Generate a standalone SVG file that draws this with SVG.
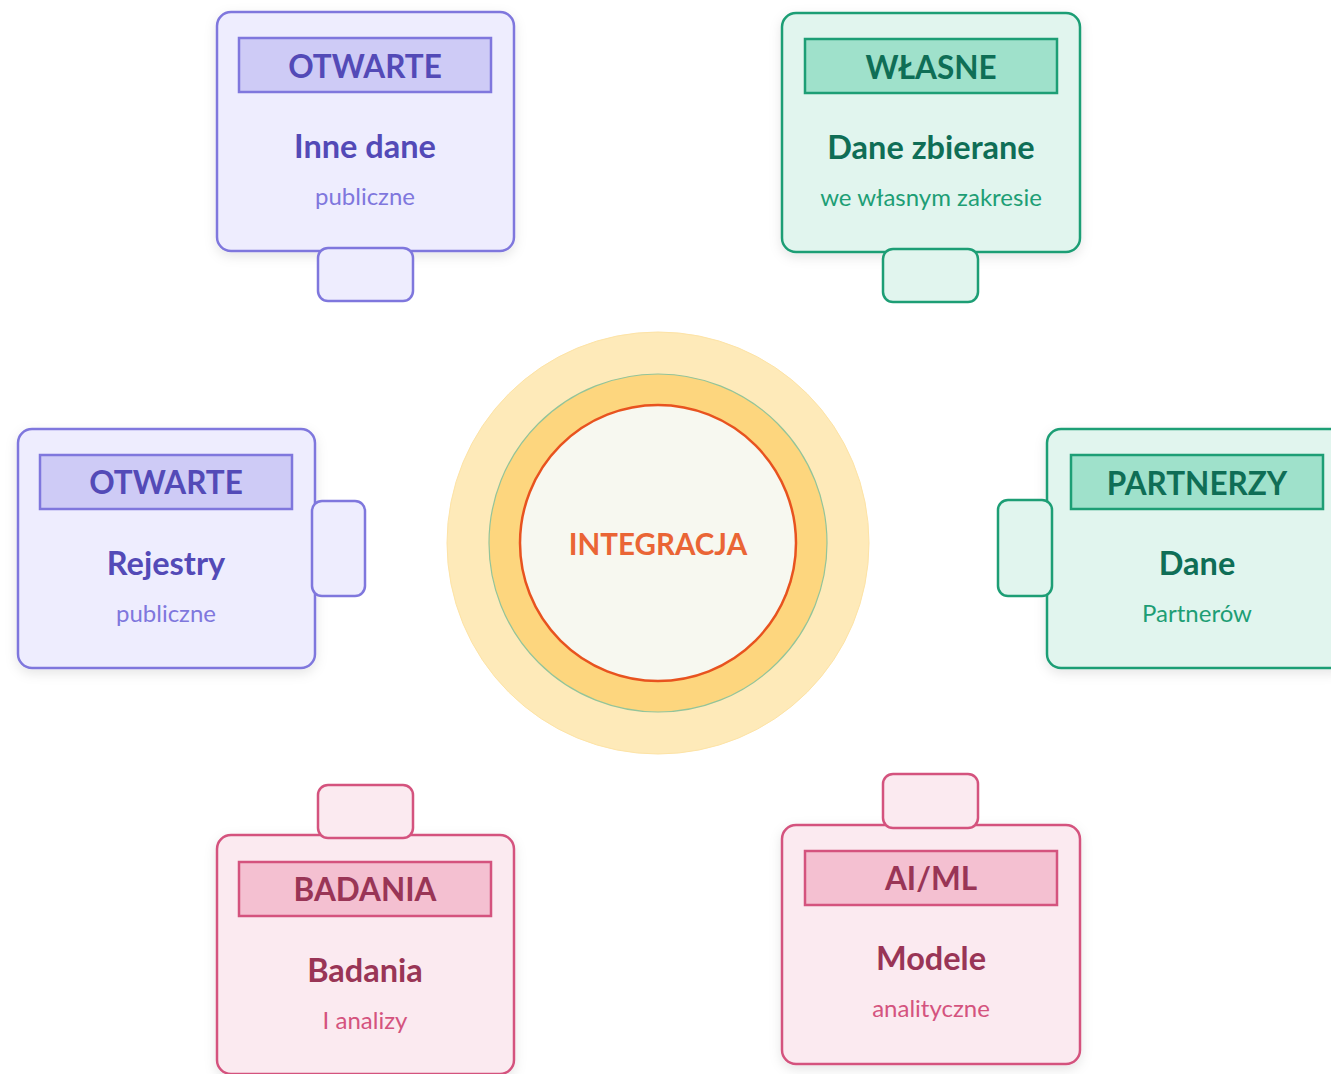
<svg xmlns="http://www.w3.org/2000/svg" width="1331" height="1074" viewBox="0 0 1331 1074">
<defs>
<filter id="sh" x="-10%" y="-10%" width="120%" height="125%">
<feDropShadow dx="0" dy="4" stdDeviation="6" flood-color="#000" flood-opacity="0.10"/>
</filter>
<style>
text{font-family:Lato,"Open Sans","Liberation Sans",sans-serif;text-anchor:middle}
.hd{font-size:31.5px;font-weight:700}
.tt{font-size:32.5px;font-weight:700}
.st{font-size:24px}
.p .card,.p .tab{fill:#eeedfe;stroke:#7f77dd;stroke-width:2.5}
.p .hdr{fill:#cecbf6;stroke:#7f77dd;stroke-width:2.5}
.p .hd,.p .tt{fill:#534ab7}
.p .st{fill:#7f77dd}
.g .card,.g .tab{fill:#e1f5ee;stroke:#1d9e75;stroke-width:2.5}
.g .hdr{fill:#9fe1cb;stroke:#1d9e75;stroke-width:2.5}
.g .hd,.g .tt{fill:#0f6e56}
.g .st{fill:#1d9e75}
.k .card,.k .tab{fill:#fbeaf0;stroke:#d4537e;stroke-width:2.5}
.k .hdr{fill:#f4c0d1;stroke:#d4537e;stroke-width:2.5}
.k .hd,.k .tt{fill:#993556}
.k .st{fill:#d4537e}
</style>
</defs>
<rect width="1331" height="1074" fill="#ffffff"/>
<g id="connectors"></g>
<g id="center">
<circle cx="658" cy="543" r="211" fill="#feeab9" stroke="#fde3a6" stroke-width="1"/>
<circle cx="658" cy="543" r="169" fill="#fdd67e" stroke="#93c49a" stroke-width="1.2"/>
<circle cx="658" cy="543" r="138" fill="#f7f8f0" stroke="#e8531f" stroke-width="2.5"/>
<text x="658" y="555" style="font-size:29.5px;font-weight:700;fill:#ea6535">INTEGRACJA</text>
</g>
<g id="node-inne-dane" class="p">
<rect class="card" x="217" y="12" width="297" height="239" rx="14" filter="url(#sh)"/>
<rect class="tab" x="318" y="248" width="95" height="53" rx="10"/>
<rect class="hdr" x="239" y="38" width="252" height="54"/>
<text class="hd" x="365" y="78">OTWARTE</text>
<text class="tt" x="365" y="158">Inne dane</text>
<text class="st" x="365" y="205">publiczne</text>
</g>
<g id="node-dane-zbierane" class="g">
<rect class="card" x="782" y="13" width="298" height="239" rx="14" filter="url(#sh)"/>
<rect class="tab" x="883" y="249" width="95" height="53" rx="10"/>
<rect class="hdr" x="805" y="39" width="252" height="54"/>
<text class="hd" x="931" y="79">WŁASNE</text>
<text class="tt" x="931" y="159">Dane zbierane</text>
<text class="st" x="931" y="206">we własnym zakresie</text>
</g>
<g id="node-rejestry" class="p">
<rect class="card" x="18" y="429" width="297" height="239" rx="14" filter="url(#sh)"/>
<rect class="tab" x="312" y="501" width="53" height="95" rx="10"/>
<rect class="hdr" x="40" y="455" width="252" height="54"/>
<text class="hd" x="166" y="494">OTWARTE</text>
<text class="tt" x="166" y="575">Rejestry</text>
<text class="st" x="166" y="622">publiczne</text>
</g>
<g id="node-partnerzy" class="g">
<rect class="card" x="1047" y="429" width="300" height="239" rx="14" filter="url(#sh)"/>
<rect class="tab" x="998" y="500" width="54" height="96" rx="10"/>
<rect class="hdr" x="1071" y="455" width="252" height="54"/>
<text class="hd" x="1197" y="495">PARTNERZY</text>
<text class="tt" x="1197" y="575">Dane</text>
<text class="st" x="1197" y="622">Partnerów</text>
</g>
<g id="node-badania" class="k">
<rect class="card" x="217" y="835" width="297" height="239" rx="14" filter="url(#sh)"/>
<rect class="tab" x="318" y="785" width="95" height="53" rx="10"/>
<rect class="hdr" x="239" y="862" width="252" height="54"/>
<text class="hd" x="365" y="901">BADANIA</text>
<text class="tt" x="365" y="982">Badania</text>
<text class="st" x="365" y="1029">I analizy</text>
</g>
<g id="node-modele" class="k">
<rect class="card" x="782" y="825" width="298" height="239" rx="14" filter="url(#sh)"/>
<rect class="tab" x="883" y="774" width="95" height="54" rx="10"/>
<rect class="hdr" x="805" y="851" width="252" height="54"/>
<text class="hd" x="931" y="890">AI/ML</text>
<text class="tt" x="931" y="970">Modele</text>
<text class="st" x="931" y="1017">analityczne</text>
</g>
</svg>
